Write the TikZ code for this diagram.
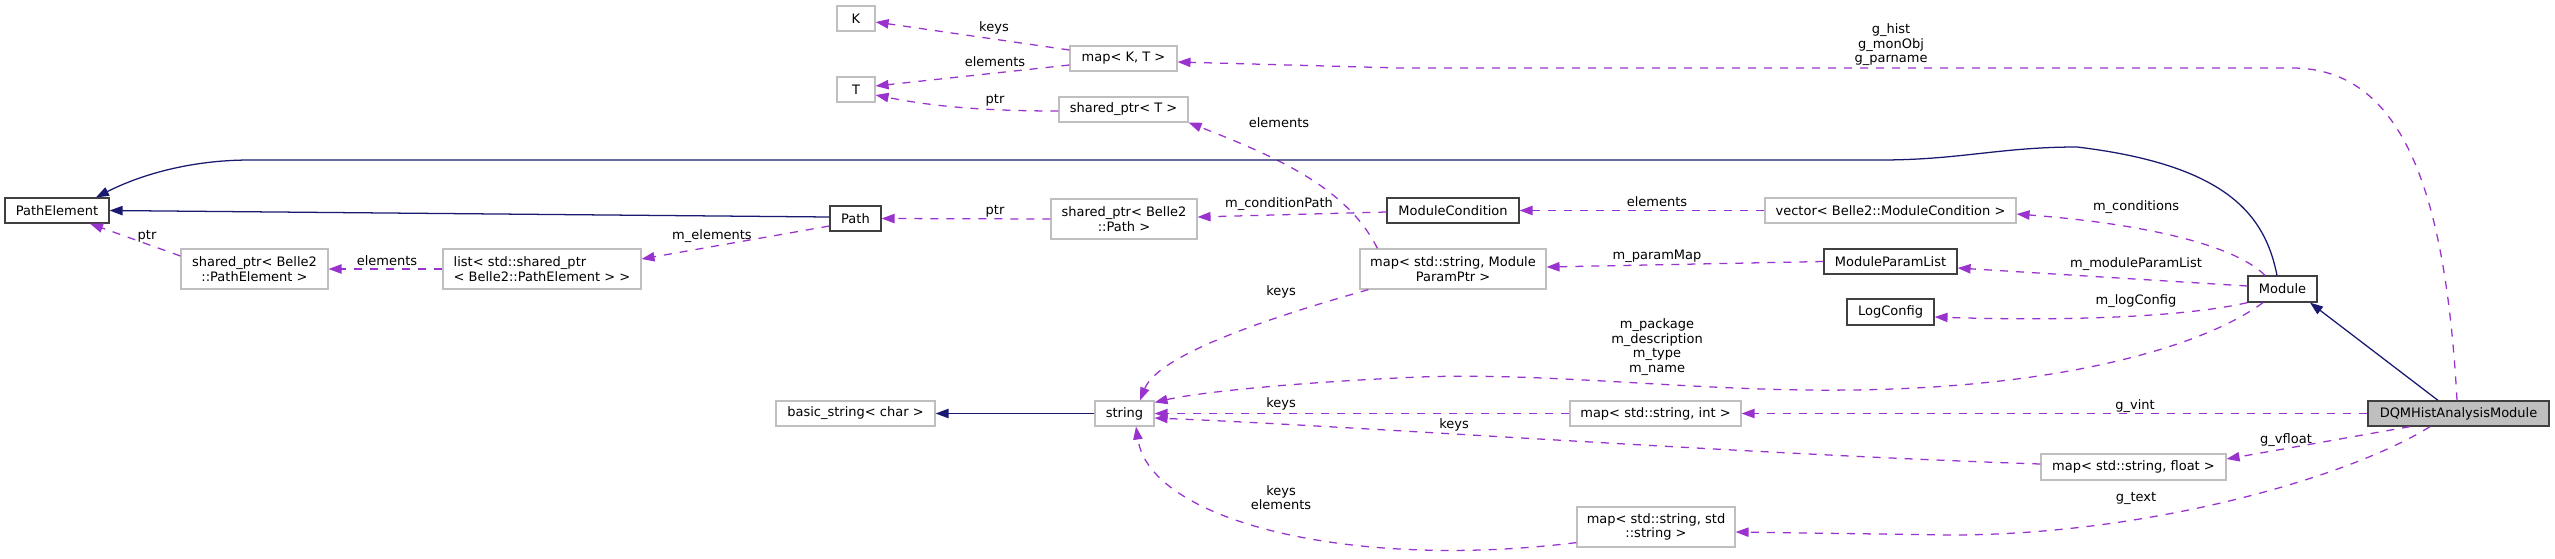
\documentclass[tikz,border=0pt]{standalone}
\usepackage{fontspec}
\setmainfont{DejaVu Sans}
\usetikzlibrary{arrows.meta,calc}
\definecolor{edgep}{HTML}{9A32CD}
\definecolor{edgeb}{HTML}{191970}
\definecolor{gborder}{HTML}{BFBFBF}
\definecolor{cborder}{HTML}{404040}
\definecolor{dqmfill}{HTML}{BFBFBF}
\begin{document}
\begin{tikzpicture}[x=0.75pt,y=-0.75pt,
  font=\fontsize{9.75}{10.9}\selectfont,
  box/.style={draw=gborder, line width=0.9pt, inner sep=0pt, align=center, fill=white},
  cbox/.style={draw=cborder, line width=0.95pt, inner sep=0pt, align=center, fill=white},
  sz/.style 2 args={minimum width=#1*0.75pt, minimum height=#2*0.75pt},
  usage/.style={draw=edgep, line width=0.95pt, dash pattern=on 6pt off 6pt, -{Triangle[length=9.7pt,width=7pt]}},
  inherit/.style={draw=edgeb, line width=0.95pt, -{Triangle[length=9.7pt,width=7pt]}},
  lbl/.style={inner sep=0pt, align=center}]
\fill[white] (0,0) rectangle (2555,558);
\useasboundingbox (0,0) rectangle (2555,558);

% nodes
\node[box, sz={38}{25}] (K) at (856,18.5) {K};
\node[box, sz={107}{25}] (mapKT) at (1123.5,58.5) {map< K, T >};
\node[box, sz={38}{25}] (T) at (856,89.5) {T};
\node[box, sz={129}{25}] (sptrT) at (1123.5,109.5) {shared\_ptr< T >};
\node[cbox, sz={104}{25}] (PathElement) at (57,210.5) {PathElement};
\node[cbox, sz={51}{25}] (Path) at (855.5,218.5) {Path};
\node[box, sz={146}{40}] (sptrPath) at (1124,219) {shared\_ptr< Belle2\\::Path >};
\node[cbox, sz={132}{25}] (ModuleCondition) at (1453,210.5) {ModuleCondition};
\node[box, sz={251}{25}] (vecMC) at (1890.5,210.5) {vector< Belle2::ModuleCondition >};
\node[box, sz={147}{40}] (sptrPE) at (254.5,269) {shared\_ptr< Belle2\\::PathElement >};
\node[box, sz={198}{40}, align=left] (listPE) at (542,269) {list< std::shared\_ptr\\< Belle2::PathElement > >};
\node[box, sz={186}{40}] (mapPP) at (1453,269) {map< std::string, Module\\ParamPtr >};
\node[cbox, sz={133}{25}] (MPL) at (1890.5,261.5) {ModuleParamList};
\node[cbox, sz={87}{26}] (LogConfig) at (1890.5,312) {LogConfig};
\node[cbox, sz={69}{26}] (Module) at (2282.5,289) {Module};
\node[box, sz={159}{25}] (basic) at (855.5,413.5) {basic\_string< char >};
\node[box, sz={59}{25}] (string) at (1124.5,413.5) {string};
\node[box, sz={171}{25}] (mapInt) at (1655.5,413.5) {map< std::string, int >};
\node[cbox, sz={181}{25}, fill=dqmfill] (DQM) at (2458.5,413.5) {DQMHistAnalysisModule};
\node[box, sz={185}{26}] (mapFloat) at (2133.5,467) {map< std::string, float >};
\node[box, sz={158}{40}] (mapStr) at (1656,527) {map< std::string, std\\::string >};

% usage edges
\draw[usage] ($(mapKT.west)+(0,-8.5)$) -- ($(K.east)+(0,3.5)$);
\draw[usage] ($(mapKT.west)+(0,6.5)$) -- ($(T.east)+(0,-3.5)$);
\draw[usage] ($(sptrT.west)+(0,1.5)$) .. controls +(-70,0) and +(60,12) .. ($(T.east)+(0,5.5)$);
\draw[usage] ($(DQM.north)+(-1.5,0)$) .. controls (2446,200) and (2406,68) .. (2292,68) -- (1400,68) -- ($(mapKT.east)+(0,3.5)$);
\draw[usage] (sptrPath.west) -- (Path.east);
\draw[usage] ($(mapPP.north west)+(18,0)$) .. controls +(-30,-60) and +(90,35) .. (sptrT.south east);
\draw[usage] ($(ModuleCondition.west)+(0,1.5)$) -- ($(sptrPath.east)+(0,-2)$);
\draw[usage] ($(Module.north)+(-17.5,0)$) .. controls +(-30,-30) and +(130,10) .. ($(vecMC.east)+(0,3.5)$);
\draw[usage] ($(Module.west)+(0,-3)$) -- ($(MPL.east)+(0,6.5)$);
\draw[usage] (Module.south west) .. controls +(-80,18) and +(90,3) .. ($(LogConfig.east)+(0,5)$);
\draw[usage] ($(Module.south)+(-19.5,0)$) .. controls (2198,350) and (2050,388) .. (1850,390) .. controls (1700,392) and (1550,372) .. (1420,377) .. controls (1300,382) and (1200,392) .. ($(string.north east)+(0,2)$);
\draw[usage] ($(mapPP.south west)+(9,0)$) .. controls +(-70,20) and +(20,-50) .. ($(string.north)+(15.5,0)$);
\draw[usage] (mapInt.west) -- (string.east);
\draw[usage] (DQM.west) -- (mapInt.east);
\draw[usage] ($(mapFloat.west)+(0,-3)$) .. controls +(-300,-10) and +(200,8) .. ($(string.east)+(0,4.5)$);
\draw[usage] ($(DQM.south)+(-48.5,0)$) -- ($(mapFloat.east)+(0,-8)$);
\draw[usage] ($(DQM.south)+(-28.5,0)$) .. controls +(-80,50) and +(200,0) .. (1950,535) -- ($(mapStr.east)+(0,5)$);
\draw[usage] ($(mapStr.south west)+(0,-5)$) .. controls +(-227,28) and +(14,94) .. ($(string.south)+(11.5,0)$);
\draw[usage] ($(Path.west)+(0,7.5)$) -- ($(listPE.east)+(0,-10)$);
\draw[usage] (listPE.west) -- (sptrPE.east);
\draw[usage] ($(sptrPE.west)+(0,-13)$) -- ($(PathElement.south)+(33,0)$);
\draw[usage] (MPL.west) -- ($(mapPP.east)+(0,-2)$);
\draw[usage] (vecMC.west) -- (ModuleCondition.east);

% inheritance edges
\draw[inherit] (string.west) -- (basic.east);
\draw[inherit] ($(Module.north)+(-5.5,0)$) .. controls (2265,215) and (2227,165) .. (2077,147) .. controls (2000,147) and (1960,160) .. (1880,160) -- (250,160) .. controls (190,160) and (140,175) .. ($(PathElement.north)+(39,0)$);
\draw[inherit] ($(Path.west)+(0,-1.5)$) -- (PathElement.east);
\draw[inherit] ($(DQM.north)+(-20.5,0)$) -- ($(Module.south)+(27.5,0)$);

% labels
\node[lbl] (lK) at (994,28) {keys};
\node[lbl] (lTe) at (995,62) {elements};
\node[lbl] (lTp) at (995,100) {ptr};
\node[lbl] (lG) at (1891,45) {g\_hist\\g\_monObj\\g\_parname};
\node[lbl] (lPp) at (995,211) {ptr};
\node[lbl] (lCP) at (1279,204) {m\_conditionPath};
\node[lbl] (lSE) at (1279,123) {elements};
\node[lbl] (lMCe) at (1657,202) {elements};
\node[lbl] (lPM) at (1657,256) {m\_paramMap};
\node[lbl] (lMP) at (1657,347) {m\_package\\m\_description\\m\_type\\m\_name};
\node[lbl] (lK2) at (1281,292) {keys};
\node[lbl] (lK3) at (1281,404) {keys};
\node[lbl] (lK4) at (1454,425) {keys};
\node[lbl] (lKE) at (1281,497.5) {keys\\elements};
\node[lbl] (lC) at (2136,207) {m\_conditions};
\node[lbl] (lMPL) at (2136,264) {m\_moduleParamList};
\node[lbl] (lLC) at (2136,301) {m\_logConfig};
\node[lbl] (lV) at (2135,406) {g\_vint};
\node[lbl] (lVF) at (2286,440) {g\_vfloat};
\node[lbl] (lT) at (2136,498) {g\_text};
\node[lbl] (lPE) at (147,236) {ptr};
\node[lbl] (lEl) at (387,261) {elements};
\node[lbl] (lME) at (712,236) {m\_elements};
\end{tikzpicture}
\end{document}
